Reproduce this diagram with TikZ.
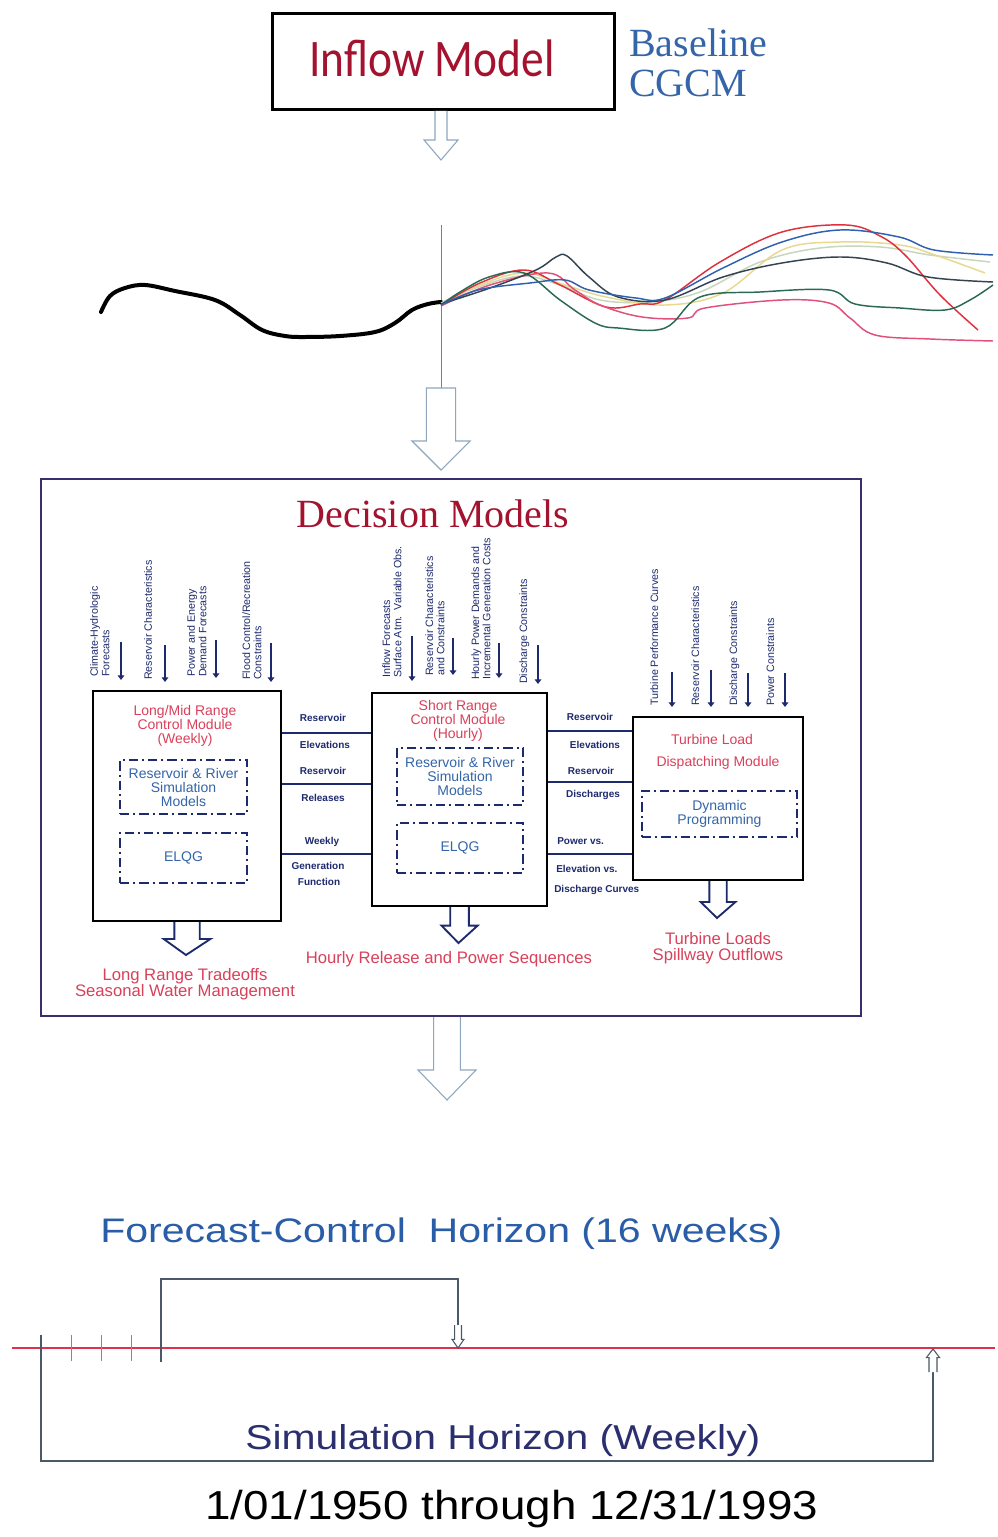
\documentclass[tikz,border=0pt]{standalone}
\usepackage{fontspec}
\setmainfont{Liberation Sans}
\newfontfamily\serifft{Liberation Serif}
\newfontfamily\carl{Carlito}
\usetikzlibrary{calc,arrows.meta}
\definecolor{crim}{HTML}{A3122E}
\definecolor{pinkred}{HTML}{D9405A}
\definecolor{midblue}{HTML}{3465A8}
\definecolor{navy}{HTML}{1E2A6E}
\definecolor{frame}{HTML}{3C2D6E}
\definecolor{paleblue}{HTML}{8FA6BC}
\definecolor{fcblue}{HTML}{2A5DA8}
\definecolor{simnavy}{HTML}{2B2F6E}
\definecolor{brkgray}{HTML}{4A5868}
\definecolor{tlred}{HTML}{E0304A}
\definecolor{cRed}{HTML}{E0303E}
\definecolor{cPink}{HTML}{E0507A}
\definecolor{cGreen}{HTML}{2A6A55}
\definecolor{cSlate}{HTML}{33434F}
\definecolor{cBlue}{HTML}{3060B0}
\definecolor{cYellow}{HTML}{E8D890}
\definecolor{cSage}{HTML}{C8D6BC}
% block arrows: #1 style, #2 from, #3 to, #4 half shaft, #5 half head, #6 head length
\newcommand{\blkdown}[6]{\draw[#1] let \p1=(#2), \p2=(#3) in (\x1-#4,\y1) -- (\x1-#4,\y2+#6) -- (\x1-#5,\y2+#6) -- (\x2,\y2) -- (\x1+#5,\y2+#6) -- (\x1+#4,\y2+#6) -- (\x1+#4,\y1);}
\newcommand{\blkdownc}[6]{\draw[#1] let \p1=(#2), \p2=(#3) in (\x1-#4,\y1) -- (\x1-#4,\y2+#6) -- (\x1-#5,\y2+#6) -- (\x2,\y2) -- (\x1+#5,\y2+#6) -- (\x1+#4,\y2+#6) -- (\x1+#4,\y1) -- cycle;}
\newcommand{\blkup}[6]{\draw[#1] let \p1=(#2), \p2=(#3) in (\x1-#4,\y1) -- (\x1-#4,\y2-#6) -- (\x1-#5,\y2-#6) -- (\x2,\y2) -- (\x1+#5,\y2-#6) -- (\x1+#4,\y2-#6) -- (\x1+#4,\y1);}
\tikzset{
  modbox/.style={draw=black, line width=1.6pt, inner sep=0pt, anchor=north west},
  dbox/.style={draw=navy, line width=1.4pt, dash pattern=on 7pt off 3pt on 1.5pt off 3pt, inner sep=0pt, align=center, text=midblue, font=\fontsize{10.5}{10.5}\selectfont},
  modtitle/.style={text=pinkred, align=center, inner sep=0pt, font=\fontsize{10.5}{10.5}\selectfont},
  outtxt/.style={text=pinkred, align=center, inner sep=0pt, font=\fontsize{12.5}{12}\selectfont},
  vlab/.style={rotate=90, anchor=north west, align=left, inner sep=0pt, text=navy, font=\fontsize{8}{8.6}\selectfont},
  inarr/.style={draw=navy, line width=1.8pt, -{Triangle[length=3.5pt,width=5pt]}},
  link/.style={draw=navy, line width=1.8pt},
  clab/.style={text=navy, inner sep=0pt, font=\fontsize{7.5}{7.5}\selectfont\bfseries},
  palearrow/.style={draw=paleblue, line width=0.8pt, fill=white, line join=miter},
  navyarrow/.style={draw=navy, line width=1.4pt, fill=white, line join=miter},
  brk/.style={draw=brkgray, line width=0.8pt},
  brkarrow/.style={draw=brkgray, line width=0.8pt, fill=white},
  curve/.style={line width=1.1pt, line join=round},
}
\begin{document}
\begin{tikzpicture}[x=0.75pt,y=-0.75pt]
\useasboundingbox (0,0) rectangle (997,1537);
\fill[white] (0,0) rectangle (997,1537);

% ---------- Inflow model ----------
\node[draw=black, line width=2.2pt, minimum width=256.5pt, minimum height=72pt, inner sep=0pt, anchor=north west] (inflow) at (271,12) {};
\node[anchor=base, inner sep=0pt, text=crim] (inflowtxt) at (432,77) {\resizebox{183.75pt}{27.5pt}{\carl Inflow Model}};
\node[anchor=base west, inner sep=0pt, text=midblue, font=\serifft\fontsize{30}{30}\selectfont] (base1) at (629,57) {Baseline};
\node[anchor=base west, inner sep=0pt, text=midblue, font=\serifft\fontsize{30}{30}\selectfont] (base2) at (629,97) {CGCM};

\coordinate (a1e) at (441,160);
\blkdown{palearrow}{inflow.south -| a1e}{a1e}{4.5pt}{12.75pt}{15pt}

% ---------- ensemble curves ----------
\coordinate (vtop) at (441,225);
\coordinate (a2s) at (441,388);
\coordinate (a2e) at (441,470);
\draw[gray, line width=0.6pt] (vtop) -- (a2s);
\draw[black, line width=3pt, line cap=round, line join=round] plot[smooth, tension=0.6] coordinates {(101,312) (110,296) (125,288) (145,285) (175,291) (215,300) (240,315) (262,330) (285,336) (305,337) (340,336) (375,332) (395,323) (412,310) (428,304) (441,302)};
\draw[curve, cSage] plot[smooth, tension=0.6] coordinates {(441,303) (470,290) (520,276) (560,285) (600,300) (650,302) (700,292) (760,262) (820,248) (880,247) (930,255) (990,262)};
\draw[curve, cYellow] plot[smooth, tension=0.6] coordinates {(441,305) (480,285) (524,273) (565,285) (606,297) (665,305) (723,293) (782,250) (840,242) (900,245) (935,255) (985,273)};
\draw[curve, cRed] plot[smooth, tension=0.6] coordinates {(441,305) (480,283) (524,270) (560,285) (606,307) (640,304) (665,300) (720,262) (782,232) (846,225) (880,236) (905,255) (940,295) (978,330)};
\draw[curve, cPink] plot[smooth, tension=0.6] coordinates {(441,306) (490,285) (548,273) (575,290) (600,305) (642,317) (688,318) (705,308) (782,300) (829,303) (850,318) (875,335) (930,339) (993,341)};
\draw[curve, cGreen] plot[smooth, tension=0.6] coordinates {(441,305) (460,292) (489,277) (524,273) (560,300) (595,323) (618,328) (665,328) (700,297) (760,292) (829,290) (855,304) (900,308) (945,310) (970,300) (993,285)};
\draw[curve, cSlate] plot[smooth, tension=0.6] coordinates {(441,304) (490,288) (536,270) (556,257) (567,256) (589,277) (618,297) (665,300) (723,277) (782,263) (840,257) (887,263) (928,277) (993,282)};
\draw[curve, cBlue] plot[smooth, tension=0.6] coordinates {(441,305) (478,290) (530,283) (565,280) (589,290) (636,298) (665,298) (723,268) (782,242) (840,230) (899,237) (934,250) (993,255)};

\blkdownc{palearrow}{a2s}{a2e}{11pt}{21.75pt}{21.75pt}

% ---------- Decision models frame ----------
\node[draw=frame, line width=1.5pt, minimum width=615pt, minimum height=402.75pt, inner sep=0pt, anchor=north west] (dm) at (40,478) {};
\node[anchor=base, inner sep=0pt, text=crim, font=\serifft\fontsize{30}{30}\selectfont] (dmtitle) at (433,527) {Decision Models};

% module boxes
\node[modbox, minimum width=141pt, minimum height=172.5pt] (lbox) at (92,690) {};
\node[modbox, minimum width=131.25pt, minimum height=159.75pt] (mbox) at (371,692) {};
\node[modbox, minimum width=127.5pt, minimum height=122.25pt] (rbox) at (632,716) {};

% left module contents
\node[modtitle] (lt) at (185,726) {Long/Mid Range\\Control Module\\(Weekly)};
\node[dbox, minimum width=95.25pt, minimum height=40.5pt] (lsim) at (183.5,787) {Reservoir \& River\\Simulation\\Models};
\node[dbox, minimum width=95.25pt, minimum height=37.5pt] (lelqg) at (183.5,858) {ELQG};

% middle module contents
\node[modtitle] (mt) at (458,721) {Short Range\\Control Module\\(Hourly)};
\node[dbox, minimum width=94.5pt, minimum height=42.75pt] (msim) at (460,776.5) {Reservoir \& River\\Simulation\\Models};
\node[dbox, minimum width=94.5pt, minimum height=37.5pt] (melqg) at (460,848) {ELQG};

% right module contents
\node[modtitle] (rt1) at (712,739) {Turbine Load};
\node[modtitle] (rt2) at (718,763) {Dispatching Module};
\node[dbox, minimum width=116.25pt, minimum height=34.5pt] (rdp) at (719.5,814) {Dynamic\\Programming};

% input labels, left group
\node[vlab] (il1) at (90,677) {Climate-Hydrologic\\Forecasts};
\node[vlab] (il2) at (144,680) {Reservoir Characteristics};
\node[vlab] (il3) at (187,677) {Power and Energy\\Demand Forecasts};
\node[vlab] (il4) at (242,680) {Flood Control/Recreation\\Constraints};
\draw[inarr] (121,642) -- (121,680);
\draw[inarr] (165,645) -- (165,682);
\draw[inarr] (216,640) -- (216,678);
\draw[inarr] (271,643) -- (271,682);

% input labels, middle group
\node[vlab] (im1) at (382,678) {Inflow Forecasts\\Surface Atm.\ \ Variable Obs.};
\node[vlab] (im2) at (425,676) {Reservoir Characteristics\\and Constraints};
\node[vlab] (im3) at (471,680) {Hourly Power Demands and\\Incremental Generation Costs};
\node[vlab] (im4) at (519,684) {Discharge Constraints};
\draw[inarr] (412,636) -- (412,681);
\draw[inarr] (453,638) -- (453,675);
\draw[inarr] (499,643) -- (499,678);
\draw[inarr] (538,645) -- (538,684);

% input labels, right group
\node[vlab] (ir1) at (650,706) {Turbine Performance Curves};
\node[vlab] (ir2) at (691,706) {Reservoir Characteristics};
\node[vlab] (ir3) at (729,706) {Discharge Constraints};
\node[vlab] (ir4) at (766,706) {Power Constraints};
\draw[inarr] (672,672) -- (672,707);
\draw[inarr] (711,670) -- (711,707);
\draw[inarr] (748,673) -- (748,707);
\draw[inarr] (785,673) -- (785,707);

% links left -> middle
\draw[link] (lbox.east |- 0,733) -- (mbox.west |- 0,733);
\draw[link] (lbox.east |- 0,784) -- (mbox.west |- 0,784);
\draw[link] (lbox.east |- 0,854) -- (mbox.west |- 0,854);
\node[clab] (ll1) at (323,718) {Reservoir};
\node[clab] (ll2) at (325,745) {Elevations};
\node[clab] (ll3) at (323,771) {Reservoir};
\node[clab] (ll4) at (323,798) {Releases};
\node[clab] (ll5) at (322,842) {Weekly};
\node[clab] (ll6) at (318,866) {Generation};
\node[clab] (ll7) at (319,882) {Function};

% links middle -> right
\draw[link] (mbox.east |- 0,731) -- (rbox.west |- 0,731);
\draw[link] (mbox.east |- 0,782) -- (rbox.west |- 0,782);
\draw[link] (mbox.east |- 0,854) -- (rbox.west |- 0,854);
\node[clab] (rl1) at (590,717) {Reservoir};
\node[clab] (rl2) at (595,745) {Elevations};
\node[clab] (rl3) at (591,771) {Reservoir};
\node[clab] (rl4) at (593,795) {Discharges};
\node[clab, anchor=west] (rl5) at (557,841) {Power vs.};
\node[clab, anchor=west] (rl6) at (556,869) {Elevation vs.};
\node[clab, anchor=west] (rl7) at (554,890) {Discharge Curves};

% output arrows
\coordinate (lae) at (186,955);
\coordinate (mae) at (458.5,943);
\coordinate (rae) at (717,918);
\blkdown{navyarrow}{lbox.south}{lae}{9.5pt}{17.5pt}{12pt}
\blkdown{navyarrow}{mbox.south}{mae}{7pt}{13.5pt}{13pt}
\blkdown{navyarrow}{rbox.south}{rae}{6.5pt}{13pt}{12pt}

\node[outtxt] (lout) at (185,984) {Long Range Tradeoffs\\Seasonal Water Management};
\node[outtxt] (mout) at (449,959) {Hourly Release and Power Sequences};
\node[outtxt] (rout) at (718,948) {Turbine Loads\\Spillway Outflows};

% arrow below decision models
\coordinate (a3e) at (447,1100);
\blkdown{palearrow}{dm.south -| a3e}{a3e}{10pt}{21.75pt}{22.5pt}

% ---------- horizons ----------
\node[anchor=base west, inner sep=0pt, text=fcblue] (fch) at (100,1242) {\resizebox{511.5pt}{18.5pt}{Forecast-Control\ \ Horizon (16 weeks)}};

\coordinate (tl0) at (12,1348);
\coordinate (tl1) at (995,1348);
\draw[tlred, line width=1.6pt] (tl0) -- (tl1);

\foreach \xx/\nm in {71/t1,101/t2,131/t3}{
  \coordinate (\nm a) at (\xx,1335);
  \coordinate (\nm b) at (\xx,1361);
  \draw[brkgray!70, line width=0.5pt] (\nm a) -- (\nm b);
}
\coordinate (fb0) at (161,1362);
\coordinate (fb1) at (161,1279);
\coordinate (fb2) at (458,1279);
\coordinate (fb3) at (458,1325);
\coordinate (fb4) at (458,1348);
\draw[brk] (fb0) -- (fb1) -- (fb2) -- (fb3);
\blkdown{brkarrow}{fb3}{fb4}{2.6pt}{4.5pt}{6.5pt}

\coordinate (sb0) at (41,1335);
\coordinate (sb1) at (41,1461);
\coordinate (sb2) at (933,1461);
\coordinate (sb3) at (933,1372);
\coordinate (sb4) at (933,1349);
\draw[brk] (sb0) -- (sb1) -- (sb2) -- (sb3);
\blkup{brkarrow}{sb3}{sb4}{3pt}{5pt}{6.5pt}

\node[anchor=base west, inner sep=0pt, text=simnavy] (simh) at (245,1449) {\resizebox{386.25pt}{18.75pt}{Simulation Horizon (Weekly)}};
\node[anchor=base west, inner sep=0pt, text=black] (dates) at (205,1519) {\resizebox{459.75pt}{22pt}{1/01/1950 through 12/31/1993}};
\end{tikzpicture}
\end{document}
